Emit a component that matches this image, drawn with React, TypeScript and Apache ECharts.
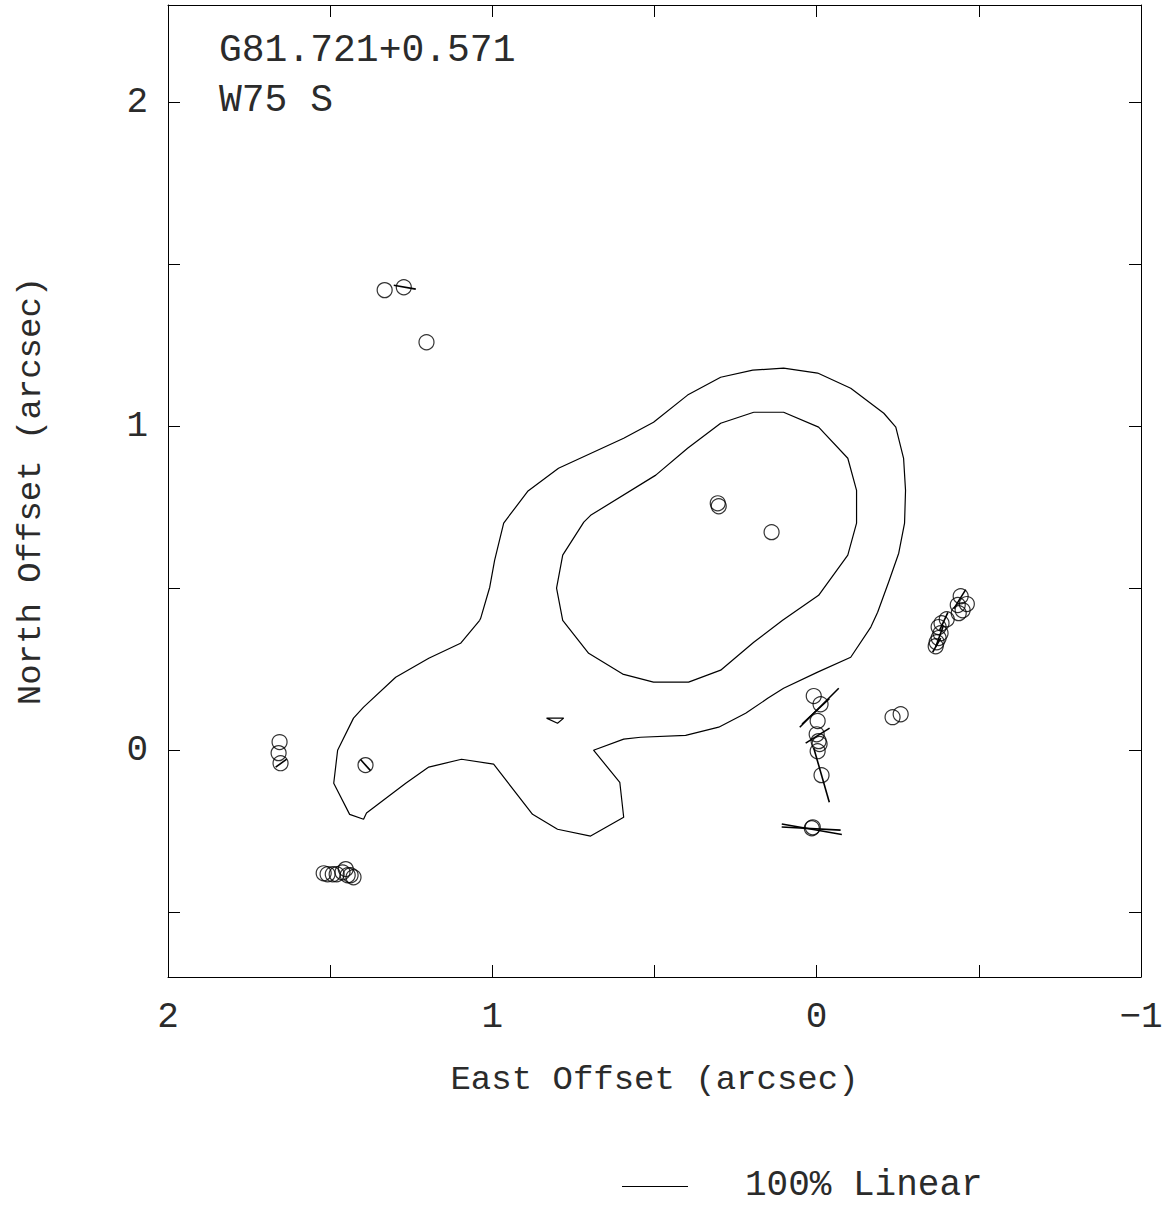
import React, { useEffect, useRef } from "react";
import * as echarts from "echarts";

// Polarised maser spots (offsets in arcsec, east positive)
const spotEast = [
  1.332, 1.273, 1.203,
  0.305, 0.302, 0.139,
  1.656, 1.659, 1.653, 1.391,
  1.52, 1.508, 1.492, 1.48, 1.462, 1.452, 1.446, 1.437, 1.428,
  0.009, -0.012, -0.003, 0.0, -0.006, -0.009, -0.003, -0.015, 0.015, 0.012,
  -0.234, -0.259,
  -0.444, -0.435, -0.463, -0.45, -0.438, -0.401, -0.385, -0.376, -0.382, -0.376, -0.37, -0.367,
];
const spotNorth = [
  1.42, 1.429, 1.259,
  0.762, 0.753, 0.673,
  0.025, -0.009, -0.04, -0.046,
  -0.38, -0.383, -0.383, -0.383, -0.377, -0.367, -0.386, -0.386, -0.392,
  0.167, 0.142, 0.09, 0.049, 0.028, 0.019, -0.003, -0.077, -0.241, -0.238,
  0.102, 0.111,
  0.475, 0.448, 0.451, 0.432, 0.423, 0.404, 0.392, 0.38, 0.361, 0.346, 0.333, 0.321,
];

// Polarisation vectors: centre, length (arcsec, 100% = 0.2") and position angle (deg, N through E)
const vecEast = [1.27, 1.651, 1.391, -0.008, 0.003, -0.003, -0.015, 0.015, 0.017, -0.441, -0.392, -0.379, -0.37];
const vecNorth = [1.429, -0.04, -0.046, 0.131, 0.12, 0.045, -0.077, -0.244, -0.242, 0.466, 0.398, 0.352, 0.324];
const vecLength = [0.069, 0.042, 0.046, 0.17, 0.115, 0.087, 0.174, 0.188, 0.182, 0.07, 0.06, 0.07, 0.05];
const vecAngle = [80, 126, 42, 135, 133, 122, 16, 80, 87, 148, 155, 160, 150];

// Continuum contours
const outerEast = [
  1.039, 1.098, 1.196, 1.298, 1.397, 1.428, 1.477, 1.489, 1.44, 1.397, 1.388, 1.267, 1.196, 1.095,
  0.996, 0.876, 0.799, 0.697, 0.595, 0.607, 0.688, 0.595, 0.543, 0.404, 0.302, 0.219, 0.151, 0.102,
  -0.003, -0.105, -0.167, -0.188, -0.222, -0.253, -0.271, -0.274, -0.268, -0.244, -0.207, -0.105,
  -0.003, 0.102, 0.197, 0.296, 0.398, 0.503, 0.595, 0.796, 0.891, 0.965, 0.993, 1.008, 1.036, 1.039,
];
const outerNorth = [
  0.401, 0.33, 0.284, 0.225, 0.133, 0.099, 0.0, -0.102, -0.198, -0.213, -0.194, -0.102, -0.052, -0.028,
  -0.043, -0.198, -0.244, -0.265, -0.207, -0.099, 0.0, 0.034, 0.04, 0.046, 0.071, 0.114, 0.16, 0.191,
  0.241, 0.287, 0.38, 0.426, 0.519, 0.608, 0.701, 0.802, 0.901, 0.997, 1.04, 1.117,
  1.164, 1.179, 1.173, 1.151, 1.096, 1.012, 0.963, 0.87, 0.799, 0.701, 0.586, 0.503, 0.407, 0.401,
];
const innerEast = [
  0.194, 0.102, -0.006, -0.096, -0.123, -0.123, -0.096, -0.006, 0.105, 0.194, 0.296, 0.395,
  0.503, 0.598, 0.703, 0.783, 0.802, 0.783, 0.718, 0.697, 0.496, 0.398, 0.296, 0.194,
];
const innerNorth = [
  1.043, 1.043, 0.997, 0.901, 0.802, 0.701, 0.602, 0.478, 0.401, 0.333, 0.247, 0.21,
  0.21, 0.235, 0.299, 0.401, 0.5, 0.602, 0.704, 0.725, 0.849, 0.932, 1.009, 1.043,
];
const islandEast = [0.833, 0.78, 0.799, 0.833];
const islandNorth = [0.099, 0.099, 0.083, 0.099];

const xTickValues = [-0.5, 0, 0.5, 1, 1.5];
const xLabelValues = [-1, 0, 1, 2];
const yTickValues = [-0.5, 0, 0.5, 1, 1.5, 2];
const yLabelValues = [0, 1, 2];

const FONT = "Liberation Mono";
const INK = "#2b2b2b";

const pairs = (a: number[], b: number[]) => a.map((v, i) => [v, b[i]]);

export default function App() {
  const ref = useRef<HTMLDivElement>(null);

  useEffect(() => {
    if (!ref.current) return;
    const chart = echarts.init(ref.current, undefined, { renderer: "svg" });

    const frameLine = { show: true, onZero: false, lineStyle: { color: "#000", width: 1 } };
    const tick = (values: number[]) => ({
      show: true,
      inside: true,
      length: 12,
      customValues: values,
      lineStyle: { color: "#000", width: 1 },
    });
    const fmt = (v: number) => (v < 0 ? "\u2212" + Math.abs(v) : String(v));

    chart.setOption({
      animation: false,
      backgroundColor: "#fff",
      grid: { left: 168, right: 32, top: 5, bottom: 230 },
      xAxis: [
        {
          type: "value",
          min: -1,
          max: 2,
          inverse: true,
          position: "bottom",
          axisLine: frameLine,
          axisTick: tick(xTickValues),
          axisLabel: {
            customValues: xLabelValues,
            formatter: fmt,
            margin: 22,
            fontFamily: FONT,
            fontSize: 36,
            color: INK,
          },
          splitLine: { show: false },
          name: "East Offset (arcsec)",
          nameLocation: "middle",
          nameGap: 86,
          nameTextStyle: { fontFamily: FONT, fontSize: 34, color: INK },
        },
        {
          type: "value",
          min: -1,
          max: 2,
          inverse: true,
          position: "top",
          axisLine: frameLine,
          axisTick: tick(xTickValues),
          axisLabel: { show: false },
          splitLine: { show: false },
        },
      ],
      yAxis: [
        {
          type: "value",
          min: -0.7,
          max: 2.3,
          position: "left",
          axisLine: frameLine,
          axisTick: tick(yTickValues),
          axisLabel: {
            customValues: yLabelValues,
            formatter: fmt,
            margin: 20,
            fontFamily: FONT,
            fontSize: 36,
            color: INK,
          },
          splitLine: { show: false },
          name: "North Offset (arcsec)",
          nameLocation: "middle",
          nameGap: 120,
          nameTextStyle: { fontFamily: FONT, fontSize: 34, color: INK },
        },
        {
          type: "value",
          min: -0.7,
          max: 2.3,
          position: "right",
          axisLine: frameLine,
          axisTick: tick(yTickValues),
          axisLabel: { show: false },
          splitLine: { show: false },
        },
      ],
      series: [
        {
          name: "outer contour",
          type: "line",
          data: pairs(outerEast, outerNorth),
          showSymbol: false,
          lineStyle: { color: "#000", width: 1.2 },
          silent: true,
        },
        {
          name: "inner contour",
          type: "line",
          data: pairs(innerEast, innerNorth),
          showSymbol: false,
          lineStyle: { color: "#000", width: 1.2 },
          silent: true,
        },
        {
          name: "island",
          type: "line",
          data: pairs(islandEast, islandNorth),
          showSymbol: false,
          lineStyle: { color: "#000", width: 1.2 },
          silent: true,
        },
        {
          name: "spots",
          type: "scatter",
          data: pairs(spotEast, spotNorth),
          symbol: "circle",
          symbolSize: 15,
          itemStyle: { color: "rgba(0,0,0,0)", borderColor: "#000", borderWidth: 1.2 },
          silent: true,
        },
        {
          name: "vectors",
          type: "custom",
          data: vecEast.map((e, i) => [e, vecNorth[i], vecLength[i], vecAngle[i]]),
          renderItem: (_params: any, api: any) => {
            const e = api.value(0);
            const n = api.value(1);
            const half = api.value(2) / 2;
            const pa = (api.value(3) * Math.PI) / 180;
            const de = half * Math.sin(pa);
            const dn = half * Math.cos(pa);
            const p1 = api.coord([e + de, n + dn]);
            const p2 = api.coord([e - de, n - dn]);
            return {
              type: "line",
              shape: { x1: p1[0], y1: p1[1], x2: p2[0], y2: p2[1] },
              style: { stroke: "#000", lineWidth: 1.6 },
            };
          },
          silent: true,
        },
      ],
      graphic: [
        {
          type: "text",
          left: 219,
          top: 31,
          style: { text: "G81.721+0.571", fontFamily: FONT, fontSize: 38, fill: INK },
        },
        {
          type: "text",
          left: 219,
          top: 81,
          style: { text: "W75 S", fontFamily: FONT, fontSize: 38, fill: INK },
        },
        {
          type: "line",
          shape: { x1: 622, y1: 1186.5, x2: 688, y2: 1186.5 },
          style: { stroke: "#000", lineWidth: 1.2 },
        },
        {
          type: "text",
          left: 745,
          top: 1167,
          style: { text: "100% Linear", fontFamily: FONT, fontSize: 36, fill: INK },
        },
      ],
    });

    return () => chart.dispose();
  }, []);

  return (
    <div
      ref={ref}
      style={{ position: "fixed", left: 0, top: 0, width: 1173, height: 1207, background: "#fff" }}
    />
  );
}
